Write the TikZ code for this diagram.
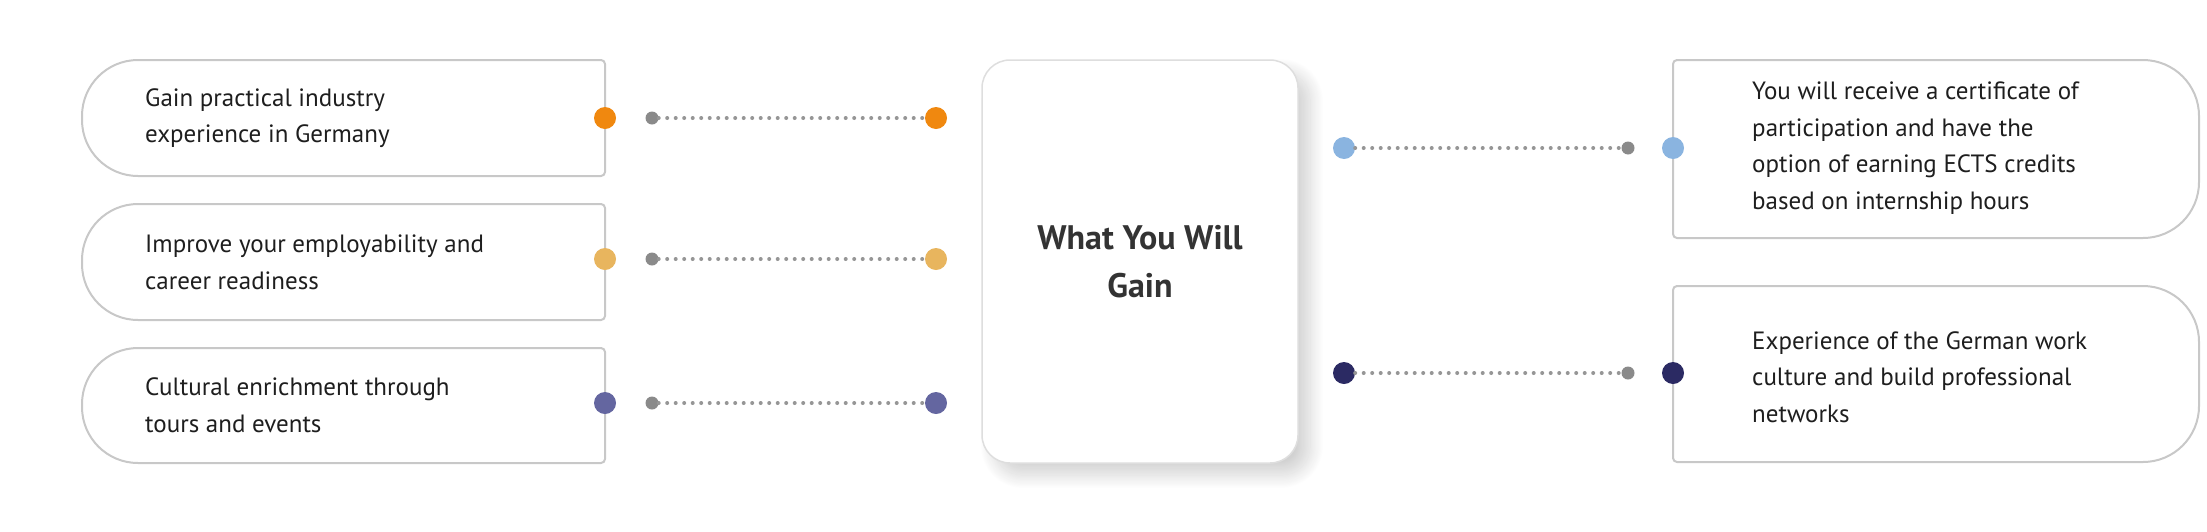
\documentclass[tikz,border=0pt]{standalone}
\usepackage{fontspec}
\setmainfont{PT Sans}
\usetikzlibrary{shadows.blur}
\definecolor{cOr}{HTML}{F0880F}
\definecolor{cLo}{HTML}{E8B55E}
\definecolor{cPu}{HTML}{6466A0}
\definecolor{cLb}{HTML}{8AB4E0}
\definecolor{cNv}{HTML}{2B2A63}
\definecolor{cGr}{HTML}{8A8A8A}
\definecolor{cBd}{HTML}{C8C8C8}
\definecolor{cTx}{HTML}{1E1E1E}
\tikzset{
  x=1pt,y=-1pt,
  boxline/.style={draw=cBd,line width=2pt,fill=white},
  txt/.style={anchor=west,align=left,font=\fontsize{25}{36.6}\selectfont,text=cTx,inner sep=0pt},
  bigdot/.style={circle,inner sep=0pt,minimum size=22pt},
  smalldot/.style={circle,inner sep=0pt,minimum size=13pt,fill=cGr},
  dotline/.style={cGr!90,line width=4pt,line cap=round,dash pattern=on 0pt off 8.5pt},
}
\newcommand{\lbox}[2]{\draw[boxline] (605,#1) [rounded corners=4pt] -- (605,#2) [rounded corners=56pt] -- (82,#2) -- (82,#1) [rounded corners=4pt] -- cycle;}
\newcommand{\rbox}[2]{\draw[boxline] (1673,#1) [rounded corners=56pt] -- (2199,#1) -- (2199,#2) [rounded corners=4pt] -- (1673,#2) -- cycle;}
\begin{document}
\begin{tikzpicture}
\useasboundingbox (0,0) rectangle (2207,531);
\lbox{60}{176}
\lbox{204}{320}
\lbox{348}{463}
\rbox{60}{238}
\rbox{286}{462}
\node[txt] (t1) at (145,118) {Gain practical industry\\experience in Germany};
\node[txt] (t2) at (145,262) {Improve your employability and\\career readiness};
\node[txt] (t3) at (145,405) {Cultural enrichment through\\tours and events};
\node[txt] (t4) at (1752,148) {You will receive a certificate of\\participation and have the\\option of earning ECTS credits\\based on internship hours};
\node[txt] (t5) at (1752,377) {Experience of the German work\\culture and build professional\\networks};
\node[draw=cBd!60,line width=1.5pt,fill=white,rounded corners=28pt,minimum width=316pt,minimum height=403pt,
  blur shadow={shadow xshift=12pt,shadow yshift=-12pt,shadow blur radius=14pt,shadow blur steps=25,shadow opacity=18},
  align=center,font=\fontsize{34}{48}\bfseries\selectfont,text=black!80] (c) at (1140,261.5) {What You Will\\Gain};
\foreach \n/\y/\c in {a/118/cOr,b/259/cLo,d/403/cPu}{
  \node[bigdot,fill=\c] (\n1) at (605,\y) {};
  \node[smalldot] (\n2) at (652,\y) {};
  \node[bigdot,fill=\c] (\n3) at (936,\y) {};
  \draw[dotline] (\n2) -- (\n3);
}
\foreach \n/\y/\c in {e/148/cLb,f/373/cNv}{
  \node[bigdot,fill=\c] (\n1) at (1344,\y) {};
  \node[smalldot] (\n2) at (1628,\y) {};
  \node[bigdot,fill=\c] (\n3) at (1673,\y) {};
  \draw[dotline] (\n1) -- (\n2);
}
\end{tikzpicture}
\end{document}
